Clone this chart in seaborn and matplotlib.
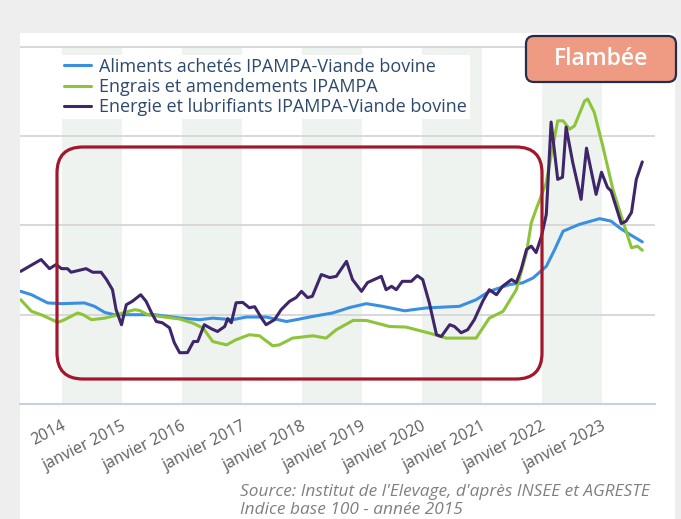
import numpy as np
import pandas as pd
import seaborn as sns
import matplotlib.pyplot as plt
from matplotlib.patches import FancyBboxPatch, Rectangle
from matplotlib.transforms import IdentityTransform

# --- data (index base 100 = 2015), x in decimal years ---
aliments_t = [2013.32, 2013.5, 2013.77, 2014.0, 2014.38, 2014.55, 2014.72, 2014.88, 2015.22, 2015.55,
              2016.0, 2016.3, 2016.52, 2016.85, 2017.08, 2017.41, 2017.75, 2017.91, 2018.18, 2018.52,
              2018.8, 2019.08, 2019.35, 2019.72, 2020.08, 2020.63, 2020.91, 2021.13, 2021.47, 2021.68,
              2021.86, 2022.08, 2022.22, 2022.36, 2022.63, 2022.97, 2023.16, 2023.3, 2023.47, 2023.68]
aliments_v = [113.1, 111.2, 106.6, 106.2, 106.6, 104.7, 101.3, 100.0, 100.0, 100.0,
              98.1, 97.2, 98.1, 97.2, 98.7, 98.7, 96.2, 97.2, 99.0, 101.0,
              104.0, 106.2, 104.7, 102.2, 103.8, 104.7, 108.4, 113.1, 116.9, 117.8,
              120.6, 127.1, 136.5, 146.8, 150.6, 153.8, 152.4, 148.7, 145.0, 140.8]

engrais_t = [2013.32, 2013.5, 2013.66, 2013.94, 2014.05, 2014.27, 2014.36, 2014.5, 2014.72, 2014.88,
             2015.05, 2015.22, 2015.3, 2015.44, 2015.72, 2015.97, 2016.19, 2016.36, 2016.52, 2016.75,
             2016.91, 2017.13, 2017.3, 2017.52, 2017.63, 2017.85, 2018.19, 2018.41, 2018.58, 2018.86,
             2019.08, 2019.47, 2019.74, 2020.13, 2020.41, 2020.91, 2021.13, 2021.36, 2021.58, 2021.75,
             2021.83, 2021.91, 2022.08, 2022.19, 2022.27, 2022.36, 2022.47, 2022.55, 2022.72, 2022.77,
             2022.88, 2023.02, 2023.19, 2023.33, 2023.5, 2023.6, 2023.68]
engrais_v = [108.4, 101.9, 100.0, 95.7, 97.2, 101.0, 100.0, 97.2, 98.1, 99.4,
             101.3, 102.8, 102.4, 100.0, 98.7, 97.6, 95.3, 92.5, 85.0, 83.1,
             86.0, 88.8, 88.2, 82.6, 83.1, 86.9, 88.2, 86.9, 91.6, 96.8,
             96.8, 93.4, 93.1, 89.7, 86.9, 86.9, 98.1, 101.9, 114.0, 134.7,
             151.5, 159.0, 174.0, 194.6, 208.6, 208.6, 203.9, 205.8, 219.8, 220.8,
             213.3, 194.6, 170.2, 155.2, 137.5, 138.4, 136.1]

energie_t = [2013.32, 2013.66, 2013.8, 2013.91, 2014.0, 2014.1, 2014.16, 2014.41, 2014.52, 2014.66,
             2014.75, 2014.85, 2014.91, 2015.0, 2015.08, 2015.18, 2015.32, 2015.41, 2015.5, 2015.58,
             2015.68, 2015.8, 2015.88, 2015.97, 2016.1, 2016.2, 2016.27, 2016.38, 2016.5, 2016.6,
             2016.72, 2016.77, 2016.83, 2016.91, 2017.02, 2017.13, 2017.22, 2017.33, 2017.41, 2017.55,
             2017.66, 2017.8, 2017.91, 2018.0, 2018.1, 2018.18, 2018.33, 2018.47, 2018.58, 2018.75,
             2018.85, 2019.0, 2019.1, 2019.33, 2019.41, 2019.5, 2019.58, 2019.68, 2019.83, 2019.93,
             2020.02, 2020.13, 2020.25, 2020.33, 2020.47, 2020.55, 2020.66, 2020.77, 2020.88, 2021.02,
             2021.13, 2021.25, 2021.35, 2021.5, 2021.58, 2021.66, 2021.75, 2021.83, 2021.91, 2022.0,
             2022.08, 2022.16, 2022.27, 2022.35, 2022.41, 2022.52, 2022.66, 2022.75, 2022.91, 2023.0,
             2023.1, 2023.16, 2023.33, 2023.41, 2023.5, 2023.58, 2023.68]
energie_v = [124.3, 130.9, 125.8, 128.1, 125.8, 125.8, 123.8, 125.8, 123.8, 123.8,
             119.7, 114.0, 102.8, 94.4, 105.6, 107.5, 111.2, 107.5, 101.1, 96.2,
             95.5, 92.7, 84.3, 78.7, 78.8, 85.0, 85.0, 94.4, 92.1, 90.6,
             93.4, 97.8, 95.5, 106.7, 106.9, 103.9, 104.5, 98.3, 94.4, 97.2,
             102.8, 107.5, 109.6, 113.1, 109.6, 110.3, 122.5, 120.8, 121.5, 129.9,
             119.7, 113.1, 118.0, 121.5, 114.0, 115.9, 114.0, 118.7, 118.7, 121.9,
             119.7, 106.7, 88.8, 87.8, 94.4, 93.4, 89.9, 91.6, 97.2, 107.5,
             114.0, 111.2, 115.9, 119.7, 118.0, 125.3, 136.5, 138.4, 134.8, 144.0,
             156.2, 207.9, 175.8, 177.0, 205.1, 185.4, 164.6, 193.3, 167.4, 179.8,
             171.3, 169.3, 151.1, 152.4, 157.3, 175.8, 185.6]

series = ["Aliments achetés IPAMPA-Viande bovine",
          "Engrais et amendements IPAMPA",
          "Energie et lubrifiants IPAMPA-Viande bovine"]
colors = ["#3b8fe0", "#8dc43a", "#3f2569"]

years = list(range(2014, 2024))
year_labels = ["2014"] + ["janvier %d" % y for y in years[1:]]
shaded_years = [2014, 2016, 2018, 2020, 2022]

df = pd.concat([
    pd.DataFrame({"t": aliments_t, "v": aliments_v, "serie": series[0]}),
    pd.DataFrame({"t": engrais_t, "v": engrais_v, "serie": series[1]}),
    pd.DataFrame({"t": energie_t, "v": energie_v, "serie": series[2]}),
])

sns.set_style("white")
plt.rcParams['font.family'] = ['Open Sans', 'DejaVu Sans']

W, H = 681, 519
fig = plt.figure(figsize=(W / 100, H / 100), dpi=100, facecolor="#eeeeee")
# white panel
fig.patches.append(Rectangle((20, 0), 655, H - 33, transform=IdentityTransform(),
                             facecolor="white", edgecolor="none", zorder=-5))

ax = fig.add_axes([20 / W, 1 - 404 / H, 635 / W, (404 - 46) / H])
ax.set_facecolor("none")

for y in shaded_years:
    ax.axvspan(y, y + 1, color="#eef3ef", zorder=0, lw=0)

sns.lineplot(data=df, x="t", y="v", hue="serie", hue_order=series, palette=colors,
             estimator=None, sort=True, lw=2.2, ax=ax, zorder=3)

ax.set_xlim(2014 - 41.5 / 60, 2014 + (655 - 61.5) / 60)
ax.set_ylim(50, 250.5)
ax.set_yticks([100, 150, 200, 250])
ax.set_yticklabels([])
ax.tick_params(axis="y", length=0)
ax.yaxis.grid(True, color="#d6d6d6", lw=1.3)
ax.set_axisbelow(True)
for s in ["top", "left", "right"]:
    ax.spines[s].set_visible(False)
ax.spines["bottom"].set_color("#c3d1e2")
ax.spines["bottom"].set_linewidth(1.5)

ax.set_xticks(years)
ax.set_xticklabels(year_labels, rotation=27, ha="right", rotation_mode="anchor",
                   fontsize=11.5, color="#5e5e5e")
ax.tick_params(axis="x", length=6, color="#c3d1e2", width=1.2, pad=4)
ax.set_xlabel("")
ax.set_ylabel("")

handles, labels = ax.get_legend_handles_labels()
leg = ax.legend(handles, labels, loc="upper left", bbox_to_anchor=(52 / W, 1 - 46 / H),
                bbox_transform=fig.transFigure, frameon=True, facecolor="white",
                edgecolor="none", framealpha=1, fontsize=13, labelcolor="#2d4a6c",
                handlelength=1.5, handletextpad=0.45, labelspacing=0.12, borderpad=0.15,
                fancybox=False)
leg.set_zorder(5)

# highlight box
fig.patches.append(FancyBboxPatch((57, H - 379), 485, 232, boxstyle="round,pad=0,rounding_size=26",
                                  transform=IdentityTransform(), facecolor="none",
                                  edgecolor="#a3172c", lw=2.3, zorder=6))
# Flambée label
fig.patches.append(FancyBboxPatch((526, H - 82), 150, 46, boxstyle="round,pad=0,rounding_size=8",
                                  transform=IdentityTransform(), facecolor="#ef9b84",
                                  edgecolor="#262d48", lw=1.6, zorder=6))
fig.text(601, H - 59, "Flambée", transform=IdentityTransform(), ha="center", va="center",
         color="white", fontsize=16.5, fontweight="semibold", zorder=7)

fig.text(240, H - 496, "Source: Institut de l'Elevage, d'après INSEE et AGRESTE",
         transform=IdentityTransform(), ha="left", va="baseline", fontsize=12.4,
         style="italic", color="#808080")
fig.text(240, H - 514, "Indice base 100 - année 2015",
         transform=IdentityTransform(), ha="left", va="baseline", fontsize=12.4,
         style="italic", color="#808080")

fig.savefig("out.png", dpi=100)
